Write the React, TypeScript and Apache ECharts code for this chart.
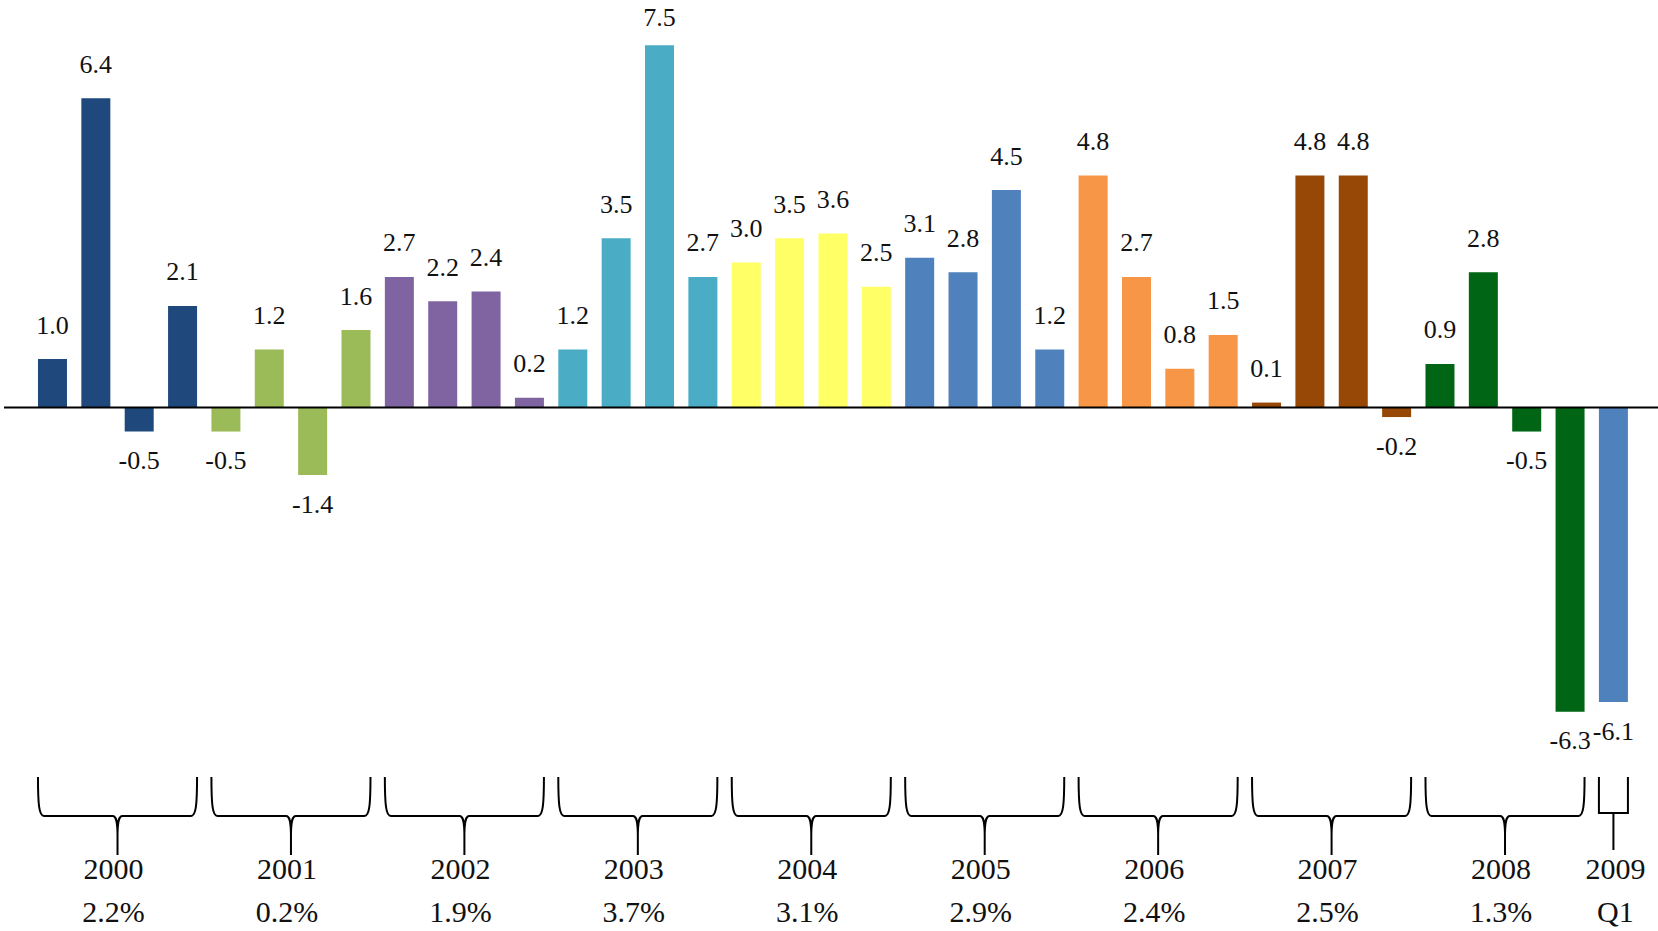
import React, { useEffect, useRef } from "react";
import * as echarts from "echarts";

const categories = [
  "2000 Q1", "2000 Q2", "2000 Q3", "2000 Q4",
  "2001 Q1", "2001 Q2", "2001 Q3", "2001 Q4",
  "2002 Q1", "2002 Q2", "2002 Q3", "2002 Q4",
  "2003 Q1", "2003 Q2", "2003 Q3", "2003 Q4",
  "2004 Q1", "2004 Q2", "2004 Q3", "2004 Q4",
  "2005 Q1", "2005 Q2", "2005 Q3", "2005 Q4",
  "2006 Q1", "2006 Q2", "2006 Q3", "2006 Q4",
  "2007 Q1", "2007 Q2", "2007 Q3", "2007 Q4",
  "2008 Q1", "2008 Q2", "2008 Q3", "2008 Q4",
  "2009 Q1",
];

const quarterlyGrowth = [
  1.0, 6.4, -0.5, 2.1,
  -0.5, 1.2, -1.4, 1.6,
  2.7, 2.2, 2.4, 0.2,
  1.2, 3.5, 7.5, 2.7,
  3.0, 3.5, 3.6, 2.5,
  3.1, 2.8, 4.5, 1.2,
  4.8, 2.7, 0.8, 1.5,
  0.1, 4.8, 4.8, -0.2,
  0.9, 2.8, -0.5, -6.3,
  -6.1,
];

const years = ["2000", "2001", "2002", "2003", "2004", "2005", "2006", "2007", "2008", "2009"];
const annualGrowth = ["2.2%", "0.2%", "1.9%", "3.7%", "3.1%", "2.9%", "2.4%", "2.5%", "1.3%", "Q1"];
const quartersPerYear = [4, 4, 4, 4, 4, 4, 4, 4, 4, 1];
const yearColors = [
  "#1F497D", "#9BBB59", "#8064A2", "#4BACC6", "#FFFF66",
  "#4F81BD", "#F79646", "#974806", "#006615", "#4F81BD",
];

const FONT = '"Liberation Serif", "Times New Roman", serif';

export default function App() {
  const ref = useRef<HTMLDivElement>(null);

  useEffect(() => {
    const chart = echarts.init(ref.current!, null, { renderer: "svg" });

    const barColors: string[] = [];
    const groups: number[][] = [];
    let idx = 0;
    quartersPerYear.forEach((n, yi) => {
      groups.push([idx, idx + n - 1, yi]);
      for (let k = 0; k < n; k++) barColors.push(yearColors[yi]);
      idx += n;
    });

    const maxVal = Math.max(...quarterlyGrowth);
    const barData = quarterlyGrowth.map((v, i) => ({
      value: v,
      itemStyle: { color: barColors[i] },
      label: {
        position: v < 0 ? "bottom" : "top",
        distance: v < 0 ? 16 : v === maxVal ? 15 : 21,
      },
    }));

    const renderBrace = (params: any, api: any) => {
      const s = api.value(0);
      const e = api.value(1);
      const yi = api.value(2);
      const half = 14.5;
      const xs = api.coord([s, 0])[0] - half;
      const xe = api.coord([e, 0])[0] + half;
      const xc = (xs + xe) / 2;
      const yTop = 777;
      let d: string;
      let textOffset = -4;
      if (e > s) {
        const yMid = 816;
        const yTip = 855;
        d =
          `M${xs},${yTop} C${xs},${yMid - 12} ${xs + 1},${yMid} ${xs + 6},${yMid} ` +
          `L${xc - 5},${yMid} C${xc - 1},${yMid} ${xc},${yMid + 6} ${xc},${yMid + 20} ` +
          `L${xc},${yTip} M${xc},${yMid + 20} C${xc},${yMid + 6} ${xc + 1},${yMid} ${xc + 5},${yMid} ` +
          `L${xe - 6},${yMid} C${xe - 1},${yMid} ${xe},${yMid - 12} ${xe},${yTop}`;
      } else {
        const yMid = 813;
        const yTip = 850;
        d = `M${xs},${yTop} L${xs},${yMid} L${xe},${yMid} L${xe},${yTop} M${xc},${yMid} L${xc},${yTip}`;
        textOffset = 2;
      }
      return {
        type: "group",
        children: [
          {
            type: "path",
            shape: { pathData: d },
            style: { fill: "none", stroke: "#000", lineWidth: 2 },
          },
          {
            type: "text",
            x: xc + textOffset,
            y: 868,
            style: {
              text: years[yi],
              fontFamily: FONT,
              fontSize: 30,
              fill: "#111",
              align: "center",
              verticalAlign: "middle",
            },
          },
          {
            type: "text",
            x: xc + textOffset,
            y: 911,
            style: {
              text: annualGrowth[yi],
              fontFamily: FONT,
              fontSize: 30,
              fill: "#111",
              align: "center",
              verticalAlign: "middle",
            },
          },
        ],
      };
    };

    chart.setOption({
      animation: false,
      grid: { left: 30.8, right: 22.9, top: 21, height: 772.8 },
      xAxis: { type: "category", data: categories, show: false },
      yAxis: { type: "value", min: -8, max: 8, show: false },
      series: [
        {
          type: "bar",
          data: barData,
          barWidth: 29,
          label: {
            show: true,
            formatter: (p: any) => Number(p.value).toFixed(1),
            fontFamily: FONT,
            fontSize: 26,
            color: "#111",
          },
        },
        {
          type: "custom",
          data: groups,
          encode: { x: [0, 1], y: 2 },
          renderItem: renderBrace,
          silent: true,
          clip: false,
        },
      ],
    });

    const y0 = chart.convertToPixel({ yAxisIndex: 0 }, 0) as number;
    chart.setOption({
      graphic: [
        {
          type: "line",
          shape: { x1: 4, y1: y0, x2: 1658, y2: y0 },
          style: { stroke: "#000", lineWidth: 2 },
          z: 10,
          silent: true,
        },
      ],
    });

    return () => chart.dispose();
  }, []);

  return (
    <div
      ref={ref}
      style={{ position: "absolute", left: 0, top: 0, width: 1658, height: 931, background: "#fff" }}
    />
  );
}
